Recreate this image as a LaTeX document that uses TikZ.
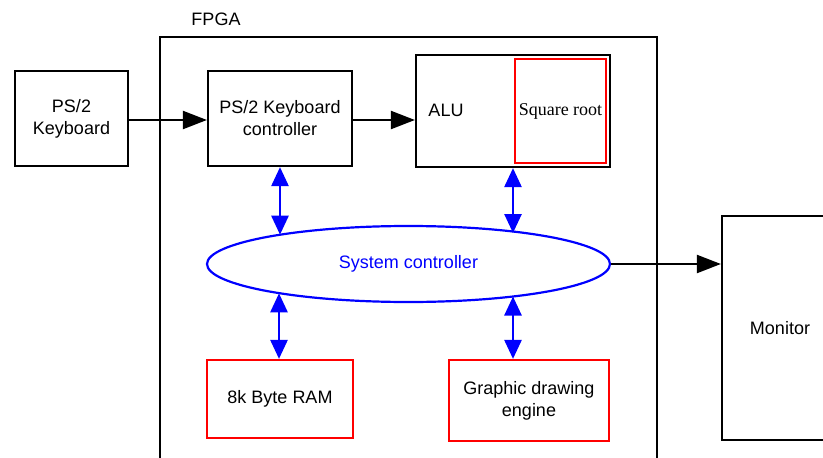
\documentclass[tikz,border=0pt]{standalone}
\usepackage{fontspec}
\setmainfont{Liberation Sans}
\newfontfamily\timesfont{Liberation Serif}
\usetikzlibrary{arrows.meta,shapes.geometric,calc}
\definecolor{rbox}{RGB}{255,0,0}
\definecolor{bl}{RGB}{0,0,255}
\tikzset{
  txt/.style={font=\fontsize{18}{22}\selectfont},
  blk/.style={draw=black, line width=2.2pt, inner sep=0pt, align=center, txt},
  redbox/.style={draw=rbox, line width=2.2pt, inner sep=0pt, align=center, txt},
  arr/.style={line width=2.2pt, -{Triangle[length=24pt 0 0,width=18pt 0 0]}},
  barr/.style={bl, line width=2.6pt, {Triangle[length=19pt 0 0,width=17pt 0 0]}-{Triangle[length=19pt 0 0,width=17pt 0 0]}},
}
\begin{document}
\begin{tikzpicture}[x=1pt,y=-1pt]
\useasboundingbox (0,0) rectangle (823,458);
\fill[white] (0,0) rectangle (823,458);
% FPGA
\draw[line width=2.2pt] (160,470) -- (160,37) -- (657,37) -- (657,470);
\node[txt] (fpgalbl) at (216,19) {FPGA};
% boxes
\node[blk, minimum width=113pt, minimum height=95pt] (kb) at (71.5,118.5) {PS/2\\Keyboard};
\node[blk, minimum width=144pt, minimum height=95pt] (ctrl) at (280,118.5) {PS/2 Keyboard\\controller};
\node[blk, minimum width=194pt, minimum height=112pt] (alu) at (513,111) {};
\node[redbox, minimum width=91pt, minimum height=104pt, font=\timesfont\fontsize{18}{22}\selectfont] (sqrt) at (560.5,111) {Square root};
\node[txt] (alulbl) at (446,110) {ALU};
\node[draw=bl, line width=2.2pt, ellipse, minimum width=403pt, minimum height=76pt, inner sep=0pt, text=bl, txt] (sys) at (408.5,264) {System controller};
\node[redbox, minimum width=146pt, minimum height=78pt] (ram) at (280,399) {8k Byte RAM};
\node[redbox, minimum width=160pt, minimum height=81pt] (gde) at (529,400.5) {Graphic drawing\\engine};
\node[blk, minimum width=116pt, minimum height=224pt] (mon) at (780,328) {Monitor};
% black arrows
\draw[arr] (kb.east |- 0,120) -- (ctrl.west |- 0,120);
\draw[arr] (ctrl.east |- 0,120) -- (alu.west |- 0,120);
\draw[arr] (sys.east) -- (sys.east -| mon.west);
% ellipse contact points
\coordinate (e1) at (280,234.7);
\coordinate (e2) at (513,233);
\coordinate (e3) at (279,293.3);
\coordinate (e4) at (513,296.5);
% blue double arrows
\draw[barr] (ctrl.south) -- (e1);
\draw[barr] (alu.south) -- (e2);
\draw[barr] (e3) -- (e3 |- ram.north);
\draw[barr] (e4) -- (e4 |- gde.north);
\end{tikzpicture}
\end{document}
